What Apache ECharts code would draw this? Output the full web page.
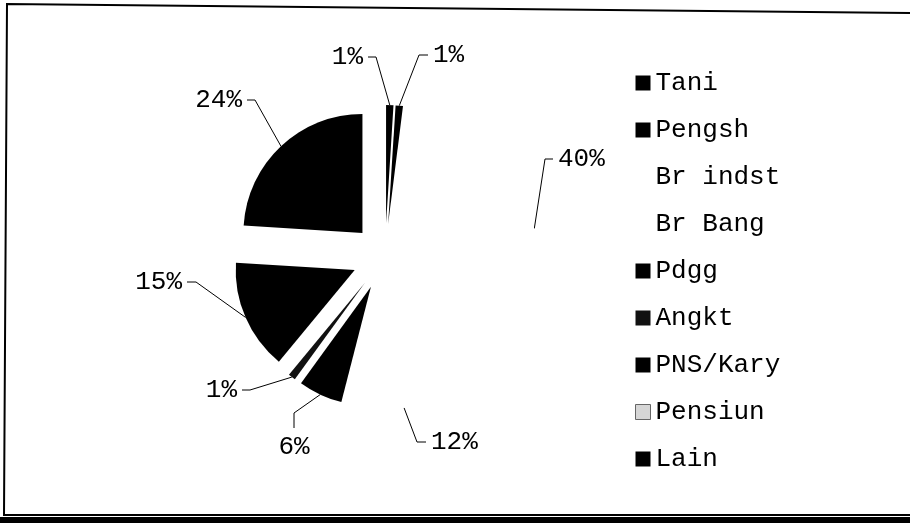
<!DOCTYPE html>
<html>
<head>
<meta charset="utf-8">
<script src="https://cdn.jsdelivr.net/npm/echarts@6/dist/echarts.min.js"></script>
<style>
  html, body { margin: 0; padding: 0; background: #fff; }
  #chart { width: 910px; height: 523px; }
</style>
</head>
<body>
<div id="chart"></div>
<script>
// pekerjaan (share, %)
const categories = ['Tani', 'Pengsh', 'Br indst', 'Br Bang', 'Pdgg', 'Angkt', 'PNS/Kary', 'Pensiun', 'Lain']
const shares = [1, 1, 40, 12, 6, 1, 15, 0, 24]
const fills = ['#000', '#000', '#fff', '#fff', '#000', '#111', '#000', '#d6d6d6', '#000']

// where each label line bends and ends (pixels)
const labelLines = {
  'Tani': { bend: [376, 57], end: [368, 57], align: 'right' },
  'Pengsh': { bend: [419, 55], end: [428, 55], align: 'left' },
  'Br indst': { bend: [545, 159], end: [553, 159], align: 'left' },
  'Br Bang': { bend: [417, 442], end: [426, 442], align: 'left' },
  'Pdgg': { bend: [294, 413], end: [294, 428], align: 'center' },
  'Angkt': { bend: [250, 390], end: [242, 390], align: 'right' },
  'PNS/Kary': { bend: [196, 282], end: [187, 282], align: 'right' },
  'Lain': { bend: [255, 100], end: [247, 100], align: 'right' }
}

const font = 'Liberation Mono'
const center = [385, 257]
const radius = 119
const explode = 33

const chart = echarts.init(document.getElementById('chart'))

// exploded slices
const sliceData = categories.map(function(name, i) {
  return {
    name: name,
    value: shares[i],
    selected: true,
    itemStyle: { color: fills[i] }
  }
})

// invisible ring at the exploded outer edge, only carries the labels
const labelData = categories.map(function(name, i) {
  const item = { name: name, value: shares[i] }
  if (shares[i] === 0) {
    item.label = { show: false }
    item.labelLine = { show: false }
  }
  return item
})

const legendData = categories.map(function(name, i) {
  const item = { name: name, itemStyle: { color: fills[i] } }
  if (name === 'Pensiun') {
    item.itemStyle.borderColor = '#666'
    item.itemStyle.borderWidth = 1
  }
  return item
})

chart.setOption({
  animation: false,
  graphic: [
    {
      type: 'polyline',
      shape: { points: [[912, 13], [7, 4], [4, 515], [912, 515]] },
      style: { stroke: '#000', lineWidth: 2, fill: null }
    },
    {
      type: 'rect',
      shape: { x: 0, y: 517, width: 910, height: 6 },
      style: { fill: '#000' }
    }
  ],
  legend: {
    orient: 'vertical',
    left: 635,
    top: 70,
    padding: 0,
    itemWidth: 15,
    itemHeight: 15,
    itemGap: 21,
    icon: 'rect',
    selectedMode: false,
    textStyle: { fontFamily: font, fontSize: 26, color: '#000' },
    data: legendData
  },
  series: [
    {
      type: 'pie',
      center: center,
      radius: radius,
      startAngle: 90,
      clockwise: true,
      selectedMode: 'multiple',
      selectedOffset: explode,
      emphasis: { disabled: true },
      label: { show: false },
      labelLine: { show: false },
      data: sliceData
    },
    {
      type: 'pie',
      center: center,
      radius: radius + explode,
      startAngle: 90,
      clockwise: true,
      silent: true,
      selectedMode: false,
      avoidLabelOverlap: false,
      emphasis: { disabled: true },
      itemStyle: { color: 'rgba(0,0,0,0)' },
      label: {
        show: true,
        position: 'outside',
        fontFamily: font,
        fontSize: 26,
        color: '#000',
        formatter: function(p) {
          return Math.round(p.percent) + '%'
        }
      },
      labelLine: {
        show: true,
        length: 10,
        length2: 10,
        lineStyle: { color: '#000', width: 1 }
      },
      labelLayout: function(params) {
        const spot = labelLines[categories[params.dataIndex]]
        if (!spot || !params.labelLinePoints) return {}
        const start = params.labelLinePoints[0]
        const out = {
          labelLinePoints: [start, spot.bend, spot.end]
        }
        if (spot.align === 'center') {
          out.x = spot.end[0]
          out.y = spot.end[1] + 6
          out.align = 'center'
          out.verticalAlign = 'top'
        } else {
          out.x = spot.end[0] + (spot.align === 'left' ? 5 : -5)
          out.y = spot.end[1]
          out.align = spot.align
          out.verticalAlign = 'middle'
        }
        return out
      },
      data: labelData
    }
  ]
})
</script>
</body>
</html>
